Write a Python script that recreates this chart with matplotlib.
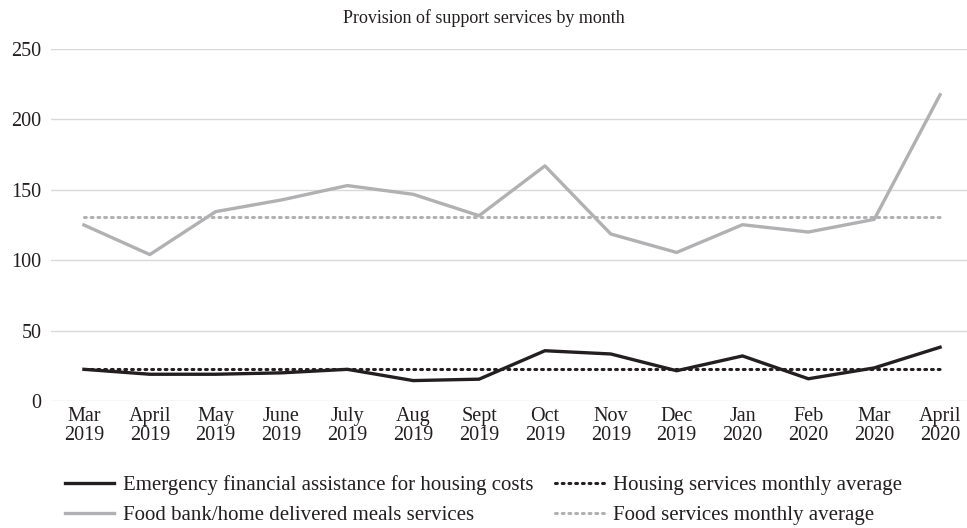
import matplotlib
matplotlib.use("Agg")
import matplotlib.pyplot as plt
import numpy as np

months = ["Mar\n2019", "April\n2019", "May\n2019", "June\n2019", "July\n2019", "Aug\n2019",
          "Sept\n2019", "Oct\n2019", "Nov\n2019", "Dec\n2019", "Jan\n2020", "Feb\n2020",
          "Mar\n2020", "April\n2020"]
housing = [22.5, 19, 19, 20, 22.5, 14.5, 15.5, 35.7, 33.4, 21.5, 32, 15.8, 23.5, 38.2]
food = [125, 104, 134.5, 142.8, 153, 146.8, 131.6, 167, 118.6, 105.5, 125.2, 120, 129, 217.5]
housing_avg = 22.5
food_avg = 130.5

plt.rcParams['font.family'] = ['Liberation Serif', 'DejaVu Serif']

fig = plt.figure(figsize=(9.67, 5.28), dpi=100)
ax = fig.add_axes([51/967, 1 - 401/528, 922/967, (401-49)/528])

x = np.arange(len(months))
ax.plot(x, housing, color="#231f20", lw=2.4, solid_joinstyle="miter",
        label="Emergency financial assistance for housing costs", zorder=4)
ax.plot(x, food, color="#b1b1b3", lw=2.4,
        label="Food bank/home delivered meals services", zorder=3)
ax.plot(x, [housing_avg]*len(x), color="#231f20", lw=2.2, ls=(0, (0.6, 1.6)),
        dash_capstyle="round", label="Housing services monthly average", zorder=5)
ax.plot(x, [food_avg]*len(x), color="#b1b1b3", lw=2.2, ls=(0, (0.6, 1.6)),
        dash_capstyle="round", label="Food services monthly average", zorder=2)

ax.set_xlim(-0.5, len(months) - 0.5)
ax.set_ylim(0, 250)
ax.set_yticks([0, 50, 100, 150, 200, 250])
ax.yaxis.grid(True, color="#d9d9d9", lw=1)
ax.set_axisbelow(True)
for s in ax.spines.values():
    s.set_visible(False)
ax.set_xticks(x)
ax.set_xticklabels(months, fontsize=14.5, linespacing=1.0)
ax.tick_params(axis="both", length=0, labelsize=14.5, colors="#231f20")
ax.tick_params(axis="x", pad=4)
ax.tick_params(axis="y", pad=7)

fig.text(0.5, 1 - 18/528, "Provision of support services by month", ha="center", va="center",
         fontsize=13, color="#231f20")

handles, labels = ax.get_legend_handles_labels()
fig.legend(handles, labels, ncol=2,
           loc="center", bbox_to_anchor=(0.5, 1 - 500/528), frameon=False,
           fontsize=15, handlelength=2.35, handletextpad=0.45, columnspacing=1.0,
           labelspacing=0.5, labelcolor="#231f20")

fig.savefig("out.png", dpi=100, facecolor="white")
